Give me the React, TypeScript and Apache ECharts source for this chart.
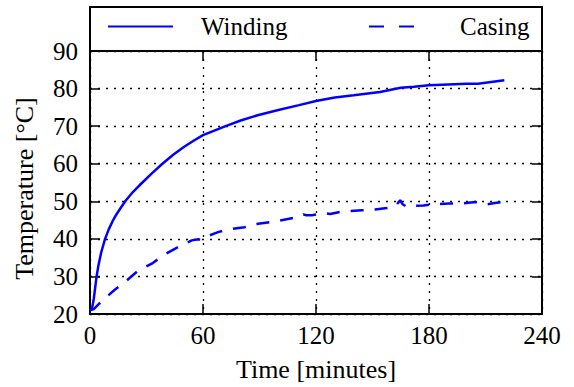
import React, { useEffect, useRef } from "react";
import * as echarts from "echarts";

const windingTime = [0, 1, 2, 3, 3.5, 4.5, 6, 8, 10, 12, 14, 16, 19, 23, 27, 33, 38, 44, 50, 55, 60, 66, 72, 80, 89, 100, 111, 120, 130, 140, 154, 165, 172, 180, 190, 200, 206, 212, 220];
const windingTemp = [21, 21.3, 24, 28, 30, 33, 36.5, 40, 42.6, 44.7, 46.5, 48, 50.2, 52.6, 54.6, 57.5, 59.8, 62.3, 64.5, 66.1, 67.6, 68.8, 70, 71.5, 72.9, 74.3, 75.6, 76.7, 77.6, 78.2, 79.1, 80.2, 80.5, 80.9, 81.1, 81.3, 81.3, 81.7, 82.2];

const casingTime = [0, 2, 5, 8, 13, 19.5, 25.7, 32.8, 39.8, 46, 54, 57.5, 58.5, 60.2, 68, 73.5, 82, 88, 96.5, 103, 110.7, 113.3, 115, 117.8, 125, 127.5, 132, 138, 144.4, 151.4, 157.6, 162, 164.7, 166, 168.3, 172, 177, 182.4, 190.4, 196.6, 204.6, 207, 210.8, 214, 219.6];
const casingTemp = [21, 21.3, 22.8, 24.2, 26.4, 28.9, 31.6, 33.4, 35.9, 37.6, 39.6, 39.9, 39.7, 40.3, 41.8, 42.5, 43.1, 43.9, 44.5, 45.1, 45.8, 46.5, 46.3, 46.3, 46.8, 46.6, 47.1, 47.4, 47.6, 47.8, 48.2, 48.6, 50.3, 49.2, 48.5, 48.8, 48.9, 49.2, 49.4, 49.4, 49.8, 49.7, 49.2, 49.5, 49.8];

const xTicks = [0, 60, 120, 180, 240];
const yTicks = [20, 30, 40, 50, 60, 70, 80, 90];
const seriesNames = ["Winding", "Casing"];
const xTitle = "Time [minutes]";
const yTitle = "Temperature [°C]";

const FONT = "Liberation Serif";
const BLUE = "#0000ff";

export default function App() {
  const ref = useRef<HTMLDivElement>(null);
  useEffect(() => {
    if (!ref.current) return;
    const chart = echarts.init(ref.current, undefined, { renderer: "svg" });
    const xMin = xTicks[0];
    const xMax = xTicks[xTicks.length - 1];
    const yMin = yTicks[0];
    const yMax = yTicks[yTicks.length - 1];
    const xInt = xTicks[1] - xTicks[0];
    const yInt = yTicks[1] - yTicks[0];
    const axisLine = { show: true, onZero: false, lineStyle: { color: "#000", width: 2 } };
    const tick = { show: true, inside: true, length: 10, lineStyle: { color: "#000", width: 1.5 } };
    const grid = { show: true, lineStyle: { color: "#000", width: 1.3, type: [2, 6] } };
    const label = { color: "#000", fontFamily: FONT, fontSize: 25 };
    chart.setOption({
      animation: false,
      backgroundColor: "#fff",
      grid: { left: 90, right: 32, top: 51, bottom: 73, containLabel: false },
      graphic: [
        {
          type: "rect",
          shape: { x: 90, y: 7, width: 452, height: 44 },
          style: { fill: "none", stroke: "#000", lineWidth: 2 },
          z: 10,
        },
      ],
      legend: [
        {
          data: [{ name: seriesNames[0] }],
          left: 107,
          top: 14,
          padding: 0,
          itemWidth: 65,
          itemHeight: 24,
          itemStyle: { opacity: 0 },
          textStyle: { color: "#000", fontFamily: FONT, fontSize: 25, padding: [0, 0, 0, 23] },
          selectedMode: false,
        },
        {
          data: [{ name: seriesNames[1], lineStyle: { type: [15, 15] } }],
          left: 368,
          top: 14,
          padding: 0,
          itemWidth: 47,
          itemHeight: 24,
          itemStyle: { opacity: 0 },
          textStyle: { color: "#000", fontFamily: FONT, fontSize: 25, padding: [0, 0, 0, 39] },
          selectedMode: false,
        },
      ],
      xAxis: [
        {
          type: "value",
          position: "bottom",
          min: xMin,
          max: xMax,
          interval: xInt,
          axisLine,
          axisTick: tick,
          axisLabel: { ...label, margin: 9 },
          splitLine: grid,
          name: xTitle,
          nameLocation: "middle",
          nameGap: 42,
          nameTextStyle: { color: "#000", fontFamily: FONT, fontSize: 26 },
        },
        {
          type: "value",
          position: "top",
          min: xMin,
          max: xMax,
          interval: xInt,
          axisLine,
          axisTick: tick,
          axisLabel: { show: false },
          splitLine: { show: false },
        },
      ],
      yAxis: [
        {
          type: "value",
          position: "left",
          min: yMin,
          max: yMax,
          interval: yInt,
          axisLine,
          axisTick: tick,
          axisLabel: { ...label, margin: 12 },
          splitLine: grid,
          name: yTitle,
          nameLocation: "middle",
          nameGap: 53,
          nameTextStyle: { color: "#000", fontFamily: FONT, fontSize: 26, padding: [0, 12, 0, 0] },
        },
        {
          type: "value",
          position: "right",
          min: yMin,
          max: yMax,
          interval: yInt,
          axisLine,
          axisTick: tick,
          axisLabel: { show: false },
          splitLine: { show: false },
        },
      ],
      series: [
        {
          name: seriesNames[0],
          type: "line",
          symbol: "none",
          smooth: false,
          data: windingTime.map((t, i) => [t, windingTemp[i]]),
          lineStyle: { color: BLUE, width: 2.5 },
          itemStyle: { color: BLUE },
        },
        {
          name: seriesNames[1],
          type: "line",
          symbol: "none",
          smooth: false,
          data: casingTime.map((t, i) => [t, casingTemp[i]]),
          lineStyle: { color: BLUE, width: 2.5, type: [13, 11] },
          itemStyle: { color: BLUE },
        },
      ],
    });
    return () => chart.dispose();
  }, []);
  return <div ref={ref} style={{ width: 574, height: 387, position: "absolute", left: 0, top: 0 }} />;
}
